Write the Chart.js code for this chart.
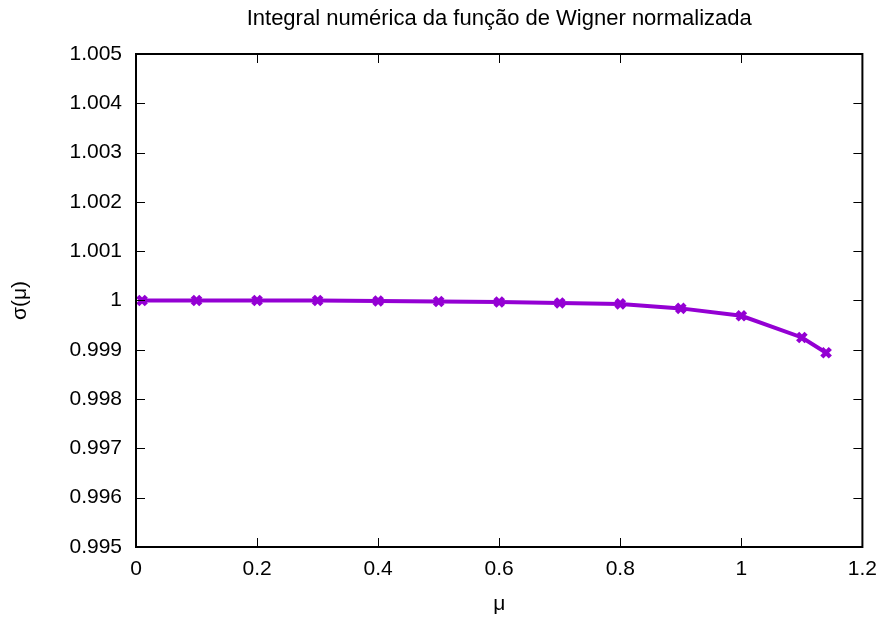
<!DOCTYPE html>
<html>
<head>
<meta charset="utf-8">
<script src="https://cdn.jsdelivr.net/npm/chart.js@4/dist/chart.umd.min.js"></script>
<style>
  html, body { margin: 0; padding: 0; background: #fff; }
  #wrap { width: 887px; height: 622px; }
</style>
</head>
<body>
<div id="wrap"><canvas id="wignerChart" width="887" height="622"></canvas></div>
<script>
// mu values and the normalised integral sigma(mu)
const muValues = [0.01, 0.1, 0.2, 0.3, 0.4, 0.5, 0.6, 0.7, 0.8, 0.9, 1.0, 1.1, 1.14];
const sigmaValues = [1.0, 1.0, 1.0, 1.0, 0.99999, 0.99998, 0.99997, 0.99995, 0.99993, 0.99984, 0.99969, 0.99925, 0.99894];

const xTicks = [0, 0.2, 0.4, 0.6, 0.8, 1, 1.2];
const yTicks = [0.995, 0.996, 0.997, 0.998, 0.999, 1, 1.001, 1.002, 1.003, 1.004, 1.005];

const font = "'Liberation Sans', Arial, sans-serif";

// frame around the plot with inward ticks on all four sides
const framePlugin = {
  id: "frame",
  afterDraw(chart) {
    const ctx = chart.ctx;
    const a = chart.chartArea;
    const xs = chart.scales.x;
    const ys = chart.scales.y;
    const len = 9;
    ctx.save();
    ctx.strokeStyle = "#000";
    ctx.lineWidth = 1;
    ctx.beginPath();
    xTicks.forEach((t) => {
      const px = Math.round(xs.getPixelForValue(t)) + 0.5;
      ctx.moveTo(px, a.bottom);
      ctx.lineTo(px, a.bottom - len);
      ctx.moveTo(px, a.top);
      ctx.lineTo(px, a.top + len);
    });
    yTicks.forEach((t) => {
      const py = Math.round(ys.getPixelForValue(t)) + 0.5;
      ctx.moveTo(a.left, py);
      ctx.lineTo(a.left + len, py);
      ctx.moveTo(a.right, py);
      ctx.lineTo(a.right - len, py);
    });
    ctx.stroke();
    ctx.lineWidth = 2;
    ctx.strokeRect(a.left, a.top, a.right - a.left, a.bottom - a.top);
    ctx.restore();
  },
};

const data = muValues.map((m, i) => ({ x: m, y: sigmaValues[i] }));

new Chart(document.getElementById("wignerChart"), {
  type: "line",
  data: {
    datasets: [
      {
        data: data,
        borderColor: "#9400d3",
        backgroundColor: "#9400d3",
        borderWidth: 4,
        pointStyle: "crossRot",
        pointRadius: 6,
        pointBorderWidth: 4.5,
        pointBorderColor: "#9400d3",
        tension: 0,
        clip: false,
      },
    ],
  },
  plugins: [framePlugin],
  options: {
    responsive: false,
    animation: false,
    layout: { padding: { left: 0, right: 22, top: 0, bottom: 0 } },
    plugins: {
      legend: { display: false },
      tooltip: { enabled: false },
      title: {
        display: true,
        text: "Integral numérica da função de Wigner normalizada",
        color: "#000",
        fullSize: false,
        font: { family: font, size: 22, weight: "normal" },
        padding: { top: 6, bottom: 21.6 },
      },
    },
    scales: {
      x: {
        type: "linear",
        min: 0,
        max: 1.2,
        afterBuildTicks: (scale) => {
          scale.ticks = xTicks.map((v) => ({ value: v }));
        },
        afterFit: (scale) => {
          scale.height = 75;
        },
        grid: { display: false, drawTicks: false },
        border: { display: false },
        ticks: {
          color: "#000",
          padding: 10,
          maxRotation: 0,
          font: { family: font, size: 21 },
          callback: (v) => String(Number(v.toFixed(1))),
        },
        title: {
          display: true,
          text: "μ",
          color: "#000",
          font: { family: font, size: 21 },
          padding: { top: 0, bottom: 5 },
        },
      },
      y: {
        type: "linear",
        min: 0.995,
        max: 1.005,
        afterBuildTicks: (scale) => {
          scale.ticks = yTicks.map((v) => ({ value: v }));
        },
        afterFit: (scale) => {
          scale.width = 136;
        },
        grid: { display: false, drawTicks: false },
        border: { display: false },
        ticks: {
          color: "#000",
          padding: 14,
          font: { family: font, size: 21 },
          callback: (v) => String(Number(v.toFixed(3))),
        },
        title: {
          display: true,
          text: "σ(μ)",
          color: "#000",
          font: { family: font, size: 21 },
          padding: { top: 8, bottom: 0 },
        },
      },
    },
  },
});
</script>
</body>
</html>
